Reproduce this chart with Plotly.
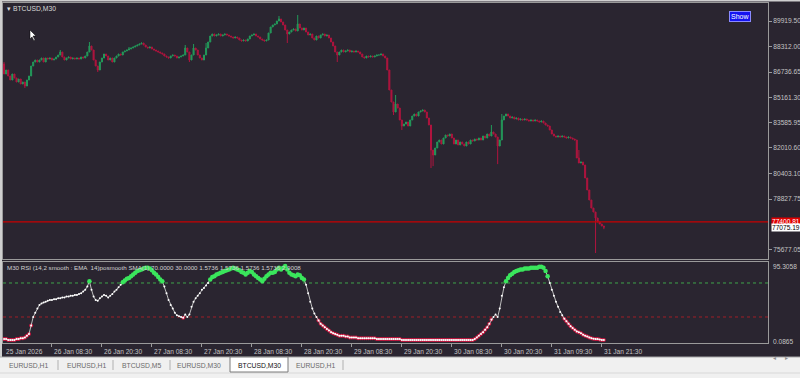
import plotly.graph_objects as go
from plotly.subplots import make_subplots

# ---------------- data ----------------
closes = [86618, 86867, 86493, 86244, 86618, 86368, 86119, 86306, 85995, 86119,
          85870, 86244, 86493, 87116, 87365, 87490, 87365, 87490, 87614, 87365,
          87614, 87552, 87614, 87490, 87552, 87677, 87801, 87988, 87677, 87490,
          87614, 87677, 87552, 87614, 87552, 87614, 87552, 87677, 87614, 87739,
          87988, 88362, 88113, 87490, 87116, 86867, 87365, 87614, 87864, 87739,
          87490, 87614, 87365, 87614, 87739, 87864, 87801, 87988, 88051, 88113,
          88175, 88238, 88300, 88362, 88424, 88487, 88549, 88424, 88300, 88238,
          88300, 88175, 88113, 88051, 87988, 87926, 87864, 87739, 87677, 87614,
          87739, 87801, 87739, 87614, 87677, 87739, 87801, 88238, 87988, 87490,
          87801, 88238, 88113, 87801, 87614, 87490, 87801, 88238, 88611, 88985,
          89110, 88985, 89047, 89110, 88985, 89047, 89110, 89047, 88985, 88923,
          88860, 88923, 88860, 88736, 88674, 88736, 88674, 88798, 88985, 89047,
          89110, 88985, 88923, 88798, 88736, 88674, 88736, 89172, 89546, 89670,
          89733, 89920, 90044, 89857, 89670, 89359, 89110, 89234, 89359, 89421,
          89297, 89733, 89483, 89359, 89483, 89234, 89047, 89110, 88860, 88736,
          88985, 88860, 89047, 89110, 88985, 89047, 88860, 88611, 88362, 87988,
          87801, 87988, 88113, 87988, 88051, 88113, 87988, 88051, 87988, 88051,
          87988, 87864, 87677, 87614, 87739, 87677, 87739, 87677, 87739, 87801,
          87801, 87864, 87739, 87614, 86867, 85621, 84873, 84250, 84748, 84499,
          83752, 83378, 83502, 83627, 83378, 83752, 84001, 84126, 84001, 84250,
          84312, 84375, 84250, 83876, 83440, 81883, 81571, 82007, 82381, 82506,
          82257, 82630, 82817, 82755, 82879, 82630, 82257, 82506, 82194, 82381,
          82257, 82132, 82381, 82257, 82506, 82443, 82568, 82506, 82630, 82506,
          82755, 82630, 82879, 82755, 83004, 82879, 82693, 82132, 82506, 83752,
          84001, 84126, 84001, 83876, 83939, 83814, 83876, 83752, 83814, 83752,
          83814, 83752, 83689, 83752, 83689, 83752, 83689, 83627, 83689, 83565,
          83440, 83378, 83129, 82879, 82755, 82693, 82755, 82693, 82755, 82693,
          82630, 82693, 82630, 82568, 82506, 81384, 81073, 81135, 80948, 80138,
          79391, 78768, 78266, 78018, 77646, 77397, 77273, 77148, 77075.19]
first_open = 87240
spike_high = {0: 87360, 27: 88113, 41: 88611, 60: 88300, 87: 88424, 91: 88487,
              97: 88550, 132: 90231, 141: 90293, 188: 85310, 234: 83440,
              239: 84126, 276: 81883}
spike_low = {10: 85746, 45: 86742, 89: 87365, 136: 88549, 160: 87365,
             187: 84063, 191: 83129, 205: 80761, 206: 80880, 237: 81004,
             284: 75466, 288: 76950}

rsi = [4, 4, 3, 3, 3, 3, 4, 4, 5, 5, 6, 8, 10, 20, 30, 35, 40, 44, 46, 47,
       48, 49, 50, 50, 51, 51, 52, 52, 53, 53, 54, 54, 55, 55, 56, 56, 57, 58, 60, 62,
       66, 72, 62, 54, 50, 49, 52, 54, 56, 55, 53, 55, 57, 60, 62, 65, 68, 71, 73, 75,
       76, 78, 80, 82, 84, 85, 86, 87, 88, 88, 87, 85, 82, 80, 77, 74, 72, 66, 58, 50,
       44, 40, 35, 32, 31, 30, 29, 33, 30, 33, 42, 48, 52, 55, 58, 62, 64, 67, 70, 74,
       77, 78, 80, 81, 82, 83, 84, 85, 86, 87, 88, 87, 86, 85, 83, 82, 80, 82, 84, 83,
       80, 78, 76, 74, 72, 75, 78, 80, 82, 82, 83, 86, 88, 86, 88, 90, 86, 82, 80, 79,
       78, 80, 79, 76, 74, 68, 58, 48, 40, 34, 30, 26, 22, 20, 18, 16, 14, 12, 11, 10,
       9, 8, 8, 8, 7, 7, 6, 6, 6, 6, 5, 5, 5, 5, 5, 5, 5, 5, 5, 4,
       4, 4, 4, 4, 4, 4, 4, 4, 4, 4, 4, 3, 3, 3, 3, 3, 3, 3, 3, 3,
       3, 3, 3, 3, 3, 3, 3, 3, 3, 3, 3, 3, 3, 3, 3, 3, 3, 3, 3, 3,
       3, 3, 3, 3, 3, 3, 4, 6, 8, 10, 12, 15, 18, 22, 27, 30, 33, 30, 40, 55,
       65, 72, 76, 79, 81, 83, 84, 85, 86, 86, 87, 87, 87, 88, 88, 88, 88, 89, 89, 88,
       84, 78, 70, 62, 55, 48, 42, 36, 32, 28, 25, 22, 19, 17, 15, 13, 12, 11, 9, 8,
       7, 6, 5, 4.5, 4, 4, 3.5, 3, 3]

price_ticks = [89919.50, 88312.00, 86736.65, 85161.30, 83585.95, 82010.60, 80403.10, 78827.75, 75677.05]
time_tick_idx = [23, 47, 71, 95, 119, 143, 167, 191, 215, 239, 263, 287]
time_labels = ["26 Jan 08:30", "26 Jan 20:30", "27 Jan 08:30", "27 Jan 20:30",
               "28 Jan 08:30", "28 Jan 20:30", "29 Jan 08:30", "29 Jan 20:30",
               "30 Jan 08:30", "30 Jan 20:30", "31 Jan 09:30", "31 Jan 21:30"]
first_label = "25 Jan 2026"
bid_line = 77400.81
last_price = 77075.19
rsi_levels = [70, 30]
tabs = ["EURUSD,H1", "EURUSD,H1", "BTCUSD,M5", "EURUSD,M30", "BTCUSD,M30", "EURUSD,H1"]
active_tab = 4

# ---------------- derived OHLC ----------------
n = len(closes)
idx = list(range(n))
opens = [first_open] + closes[:-1]
highs = [max(o, c) for o, c in zip(opens, closes)]
lows = [min(o, c) for o, c in zip(opens, closes)]
for k, v in spike_high.items():
    highs[k] = max(highs[k], v)
for k, v in spike_low.items():
    lows[k] = min(lows[k], v)

W, H = 800, 378
BG = "#2a2530"
FRAME = "#9a9a9a"
TXT = "#c4c4c4"
FONT = "Liberation Sans"

def px(x):
    return x / W

def py(y):
    return 1 - y / H

fig = make_subplots(rows=2, cols=1, shared_xaxes=True, vertical_spacing=0)

fig.add_trace(go.Candlestick(
    x=idx, open=opens, high=highs, low=lows, close=closes,
    increasing=dict(line=dict(color="#23995a", width=1), fillcolor="#23995a"),
    decreasing=dict(line=dict(color="#b0143e", width=1), fillcolor="#b0143e"),
    whiskerwidth=0, showlegend=False, hoverinfo="skip"), row=1, col=1)

fig.add_hline(y=bid_line, line=dict(color="#c80000", width=1.2), row=1, col=1)

# RSI
red_x = [i for i, v in zip(idx, rsi) if v < 30]
red_y = [v for v in rsi if v < 30]
green_x = [i for i, v in zip(idx, rsi) if v > 70]
green_y = [v for v in rsi if v > 70]
fig.add_trace(go.Scatter(x=red_x, y=red_y, mode="markers",
                         marker=dict(size=4, color="#c8173f"), showlegend=False,
                         hoverinfo="skip"), row=2, col=1)
fig.add_trace(go.Scatter(x=idx, y=rsi, mode="lines+markers",
                         line=dict(color="#bdbdbd", width=1),
                         marker=dict(size=2, color="#ffffff"), showlegend=False,
                         hoverinfo="skip"), row=2, col=1)
fig.add_trace(go.Scatter(x=green_x, y=green_y, mode="markers",
                         marker=dict(size=4.5, color="#3ae65c"), showlegend=False,
                         hoverinfo="skip"), row=2, col=1)
fig.add_hline(y=rsi_levels[0], line=dict(color="#3fa34a", width=1, dash="dot"),
              layer="below", row=2, col=1)
fig.add_hline(y=rsi_levels[1], line=dict(color="#a01e28", width=1, dash="dot"),
              layer="below", row=2, col=1)

xdom = [px(3), px(768)]
xr = [-0.5, 366.8]
fig.update_layout(
    width=W, height=H, margin=dict(l=0, r=0, t=0, b=0),
    paper_bgcolor=BG, plot_bgcolor=BG,
    font=dict(family=FONT, size=7, color=TXT),
    xaxis=dict(domain=xdom, range=xr, rangeslider=dict(visible=False),
               showgrid=False, zeroline=False, showticklabels=False,
               showline=True, linecolor=FRAME, mirror=True, ticks=""),
    xaxis2=dict(domain=xdom, range=xr, showgrid=False, zeroline=False,
                showline=True, linecolor=FRAME, mirror=True,
                tickmode="array", tickvals=time_tick_idx,
                ticktext=[""] * len(time_tick_idx),
                ticks="outside", ticklen=3, tickcolor=FRAME),
    yaxis=dict(domain=[py(259), py(3)], range=[75092, 91041], side="right",
               showgrid=False, zeroline=False, showline=True, linecolor=FRAME,
               mirror=True, tickmode="array", tickvals=price_ticks,
               ticktext=[f"{v:.2f}" for v in price_ticks],
               ticks="outside", ticklen=3, tickcolor=FRAME,
               tickfont=dict(size=6.6, color=TXT, family=FONT)),
    yaxis2=dict(domain=[py(343), py(262)], range=[-0.6, 94.7], side="right",
                showgrid=False, zeroline=False, showline=True, linecolor=FRAME,
                mirror=True, showticklabels=False, ticks=""),
)

ann = []
ann.append(dict(x=xr[0], y=py(351), xref="x2", yref="paper", text=first_label,
                showarrow=False, xanchor="left", yanchor="middle", xshift=1,
                font=dict(size=6.6, color=TXT)))
for i, t in zip(time_tick_idx, time_labels):
    ann.append(dict(x=i, y=py(351), xref="x2", yref="paper", text=t,
                    showarrow=False, xanchor="left", yanchor="middle", xshift=0,
                    font=dict(size=6.6, color=TXT)))
ann.append(dict(x=px(771), y=bid_line, xref="paper", yref="y", text=f"{bid_line:.2f}",
                showarrow=False, xanchor="left", yanchor="middle", bgcolor="#e00000",
                borderpad=0, font=dict(size=6.6, color="#ffffff")))
ann.append(dict(x=px(771), y=last_price, xref="paper", yref="y", text=f"{last_price:.2f}",
                showarrow=False, xanchor="left", yanchor="middle", bgcolor="#ffffff",
                borderpad=0, font=dict(size=6.6, color="#000000")))
ann.append(dict(x=px(771), y=py(266), xref="paper", yref="paper", text="95.3058",
                showarrow=False, xanchor="left", yanchor="middle",
                font=dict(size=6.6, color=TXT)))
ann.append(dict(x=px(771), y=py(341), xref="paper", yref="paper", text="0.0865",
                showarrow=False, xanchor="left", yanchor="middle",
                font=dict(size=6.6, color=TXT)))
ann.append(dict(x=px(5), y=py(8), xref="paper", yref="paper", text="▾ BTCUSD,M30",
                showarrow=False, xanchor="left", yanchor="middle",
                font=dict(size=6.8, color="#d8d8d8")))
ann.append(dict(x=px(5), y=py(267), xref="paper", yref="paper",
                text="M30 RSI (14,2 smooth : EMA  14)posmooth SMA(1) 70.0000 30.0000 1.5736 1.5736 1.5736 1.5736 2.9008",
                showarrow=False, xanchor="left", yanchor="middle",
                font=dict(size=6.2, color="#d0d0d0")))
ann.append(dict(x=px(740), y=py(16), xref="paper", yref="paper", text="Show",
                showarrow=False, xanchor="center", yanchor="middle",
                bgcolor="#1414f0", bordercolor="#8a8aff", borderwidth=1, borderpad=1,
                font=dict(size=7, color="#ffffff")))
tab_cx = [28, 86, 141, 199, 259, 315]
for k, (t, cx) in enumerate(zip(tabs, tab_cx)):
    ann.append(dict(x=px(cx), y=py(365), xref="paper", yref="paper", text=t,
                    showarrow=False, xanchor="center", yanchor="middle",
                    font=dict(size=6.8, color="#111111" if k == active_tab else "#6a6a6a")))
ann.append(dict(x=px(778), y=py(363), xref="paper", yref="paper", text="◂",
                showarrow=False, font=dict(size=6, color="#909090")))
ann.append(dict(x=px(790), y=py(363), xref="paper", yref="paper", text="▸",
                showarrow=False, font=dict(size=6, color="#909090")))

shapes = []
shapes.append(dict(type="rect", xref="paper", yref="paper", x0=0, x1=px(2), y0=py(357), y1=1,
                   fillcolor="#cfcfcf", line=dict(width=0), layer="above"))
shapes.append(dict(type="rect", xref="paper", yref="paper", x0=0, x1=1, y0=py(1.5), y1=1,
                   fillcolor="#cfcfcf", line=dict(width=0), layer="above"))
shapes.append(dict(type="rect", xref="paper", yref="paper", x0=0, x1=1, y0=0, y1=py(357),
                   fillcolor="#f0f0f0", line=dict(width=0), layer="above"))
shapes.append(dict(type="line", xref="paper", yref="paper", x0=0, x1=1, y0=py(357), y1=py(357),
                   line=dict(color="#a8a8a8", width=1), layer="above"))
shapes.append(dict(type="line", xref="paper", yref="paper", x0=0, x1=1, y0=py(373), y1=py(373),
                   line=dict(color="#d8d8d8", width=1), layer="above"))
shapes.append(dict(type="rect", xref="paper", yref="paper", x0=px(230), x1=px(288),
                   y0=py(372), y1=py(357), fillcolor="#ffffff",
                   line=dict(color="#7a7a7a", width=1), layer="above"))
for sx in [58, 113, 170, 343]:
    shapes.append(dict(type="line", xref="paper", yref="paper", x0=px(sx), x1=px(sx),
                       y0=py(370), y1=py(360), line=dict(color="#b0b0b0", width=1), layer="above"))
pts = [(30, 30), (30, 39), (32, 37), (34, 41), (35, 40), (33, 36), (36, 36)]
path = "M " + " L ".join(f"{px(a):.5f},{py(b):.5f}" for a, b in pts) + " Z"
shapes.append(dict(type="path", xref="paper", yref="paper", path=path,
                   fillcolor="#ffffff", line=dict(color="#000000", width=0.5), layer="above"))

fig.update_layout(annotations=ann)
for s in shapes:
    fig.add_shape(**s)

fig.write_html("out.html")
